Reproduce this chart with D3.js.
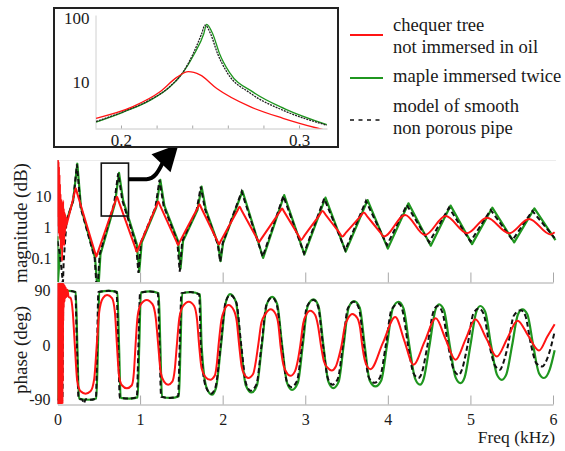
<!DOCTYPE html>
<html><head><meta charset="utf-8">
<script src="https://cdn.jsdelivr.net/npm/d3@7"></script>
<style>
html,body{margin:0;padding:0;background:#fff;}
svg{display:block;font-family:"Liberation Serif","Times New Roman",serif;}
</style></head><body>
<svg id="chart" width="565" height="451"></svg>
<script>
// ---- tick values ----
const freqTicks = [0, 1, 2, 3, 4, 5, 6];
const magTicks = [0.1, 1, 10];
const phaseTicks = [-90, 0, 90];
const insetFreqTicks = [0.2, 0.22, 0.24, 0.26, 0.28, 0.3];
const insetFreqLabels = [0.2, 0.3];
const insetMagTicks = [10, 100];

// ---- legend ----
const legendItems = [
  { key: "chequer", lines: ["chequer tree", "not immersed in oil"] },
  { key: "maple", lines: ["maple immersed twice"] },
  { key: "model", lines: ["model of smooth", "non porous pipe"] }
];

// ---- magnitude |Z| (linear units, log axis), [freq kHz, value] ----
const magModel = [[0,0.35],[0.03,0.12],[0.055,0.03],[0.065,0.012],[0.075,0.08],[0.11,1.6],[0.19,7.1],[0.235,105],[0.28,4.2],[0.45,0.1],[0.48,0.006],[0.51,0.13],[0.685,5.6],[0.735,54],[0.785,7.1],[0.95,0.28],[0.98,0.033],[1.01,0.32],[1.185,4.2],[1.235,33],[1.285,4.8],[1.45,0.35],[1.48,0.036],[1.51,0.35],[1.685,3.55],[1.735,20],[1.785,3.8],[1.94,0.28],[1.97,0.076],[2.0,0.3],[2.23,13.8],[2.485,0.11],[2.735,10],[2.985,0.141],[3.23,8.3],[3.485,0.18],[3.735,6.9],[3.99,0.26],[4.23,5.1],[4.5,0.32],[4.74,4.2],[5.0,0.34],[5.245,3.55],[5.51,0.38],[5.75,3.3],[6.02,0.44]];

const magMaple = [[0,0.5],[0.004,0.015],[0.03,0.15],[0.07,0.6],[0.11,1.6],[0.19,7.1],[0.24,110],[0.285,4.2],[0.455,0.1],[0.49,0.006],[0.52,0.13],[0.695,5.6],[0.745,56],[0.795,7.1],[0.96,0.28],[0.99,0.036],[1.02,0.32],[1.195,4.2],[1.245,33],[1.295,4.8],[1.46,0.35],[1.49,0.045],[1.52,0.35],[1.695,3.55],[1.745,20],[1.795,3.8],[1.945,0.28],[1.975,0.079],[2.005,0.3],[2.24,14.5],[2.49,0.1],[2.745,10.7],[2.99,0.13],[3.245,8.9],[3.49,0.16],[3.755,7.4],[4.0,0.2],[4.25,5.8],[4.52,0.25],[4.76,4.9],[5.02,0.28],[5.265,4.2],[5.53,0.32],[5.775,4.0],[6.03,0.38]];

const magChequer = [[0,150],[0.003,2],[0.006,150],[0.009,1],[0.012,130],[0.015,0.6],[0.018,90],[0.021,1.5],[0.024,50],[0.027,0.4],[0.03,25],[0.033,0.9],[0.036,12],[0.04,0.2],[0.044,8],[0.048,0.5],[0.052,6],[0.056,0.08],[0.06,4],[0.064,0.3],[0.068,7],[0.072,0.6],[0.076,4],[0.08,0.25],[0.085,3],[0.09,0.6],[0.095,2.5],[0.1,0.9],[0.105,2],[0.11,1.2],[0.12,1.5],[0.17,5.0],[0.205,12.2],[0.22,17.8],[0.24,11.8],[0.455,0.149],[0.47,0.11],[0.485,0.143],[0.7,6.7],[0.72,9.5],[0.74,6.8],[0.945,0.205],[0.96,0.158],[0.975,0.196],[1.2,4.95],[1.22,6.6],[1.24,5.05],[1.445,0.32],[1.46,0.263],[1.475,0.313],[1.7,4.27],[1.72,5.37],[1.74,4.17],[1.94,0.333],[1.955,0.275],[1.97,0.326],[2.185,3.61],[2.205,4.52],[2.225,3.61],[2.425,0.383],[2.44,0.324],[2.455,0.37],[2.7,3.33],[2.72,3.98],[2.74,3.25],[2.935,0.443],[2.95,0.38],[2.99,0.53],[3.17,2.37],[3.21,3.31],[3.25,2.41],[3.41,0.673],[3.45,0.49],[3.49,0.645],[3.67,2.24],[3.71,2.95],[3.75,2.19],[3.91,0.66],[3.95,0.49],[4.21,2.45],[4.45,0.55],[4.7,2.26],[4.96,0.63],[5.2,2.0],[5.47,0.63],[5.71,1.82],[5.97,0.575],[6.02,0.68]];

// ---- phase (deg), [freq kHz, value] ----
const phaseModel = [[0,-90],[0.06,-90],[0.07,85],[0.085,89],[0.15,90],[0.215,88],[0.235,0],[0.255,-88],[0.3,-90],[0.32,-96],[0.34,-89],[0.4,-90],[0.465,-88],[0.48,0],[0.495,88],[0.62,90],[0.715,88],[0.735,0],[0.755,-87],[0.86,-88],[0.96,-86],[0.98,0],[1.0,87],[1.12,89],[1.215,86],[1.235,0],[1.255,-85],[1.36,-87],[1.46,-84],[1.48,0],[1.5,86],[1.61,88],[1.715,84],[1.735,0],[1.795,-68],[1.86,-80],[1.915,-68],[1.975,0],[2.035,71],[2.09,83],[2.165,71],[2.225,0],[2.285,-64],[2.34,-75],[2.41,-64],[2.47,0],[2.53,67],[2.6,79],[2.655,67],[2.715,0],[2.775,-59],[2.83,-69],[2.9,-59],[2.96,0],[3.02,64],[3.1,75],[3.155,64],[3.215,0],[3.275,-55],[3.33,-65],[3.395,-55],[3.455,0],[3.515,61],[3.59,72],[3.65,61],[3.71,0],[3.77,-53],[3.84,-62],[3.905,-53],[3.975,0],[4.045,59],[4.13,69],[4.175,59],[4.245,0],[4.31,-46],[4.37,-54],[4.41,-46],[4.48,0],[4.55,55],[4.6,65],[4.66,55],[4.73,0],[4.8,-41],[4.86,-49],[4.895,-41],[4.965,0],[5.035,52],[5.1,61],[5.16,52],[5.23,0],[5.3,-34],[5.36,-40.5],[5.385,-34],[5.455,0],[5.525,49],[5.61,58],[5.665,49],[5.735,0],[5.8,-30],[5.87,-35],[5.93,-22],[6.02,22.6]];

const phaseMaple = [[0,-90],[0.02,85],[0.035,89],[0.13,90],[0.22,88],[0.24,0],[0.26,-88],[0.37,-90],[0.47,-88],[0.49,0],[0.505,88],[0.62,90],[0.725,88],[0.745,0],[0.765,-87],[0.87,-88],[0.97,-86],[0.99,0],[1.01,87],[1.12,89],[1.225,86],[1.245,0],[1.265,-85],[1.37,-87],[1.47,-84],[1.49,0],[1.51,86],[1.62,88],[1.725,84],[1.745,0],[1.805,-70],[1.87,-81.7],[1.92,-70],[1.98,0],[2.04,72],[2.09,84.7],[2.16,72],[2.22,0],[2.28,-66],[2.35,-78],[2.415,-66],[2.475,0],[2.535,68],[2.6,80],[2.66,68],[2.72,0],[2.78,-62],[2.84,-73.5],[2.91,-62],[2.97,0],[3.03,65],[3.1,76],[3.16,65],[3.22,0],[3.28,-60],[3.34,-70.7],[3.405,-60],[3.465,0],[3.525,62],[3.59,73],[3.66,62],[3.72,0],[3.78,-58],[3.85,-68],[3.92,-58],[3.99,0],[4.06,61],[4.13,72],[4.19,61],[4.26,0],[4.33,-55],[4.39,-65],[4.435,-55],[4.505,0],[4.575,58],[4.62,67.7],[4.68,58],[4.75,0],[4.82,-53],[4.88,-62.5],[4.93,-53],[5.0,0],[5.07,55],[5.12,65],[5.18,55],[5.25,0],[5.32,-48],[5.38,-57],[5.435,-48],[5.505,0],[5.575,51],[5.63,59.5],[5.69,51],[5.76,0],[5.83,-46],[5.89,-54],[5.96,-40],[6.02,-8]];

const phaseChequer = [[0,-97],[0.0025,103],[0.005,-97],[0.0075,103],[0.01,-97],[0.0125,103],[0.015,-97],[0.0175,103],[0.02,-97],[0.0225,103],[0.025,-97],[0.0275,103],[0.03,-97],[0.0325,103],[0.035,-97],[0.0375,103],[0.04,-97],[0.0425,103],[0.045,-97],[0.0475,103],[0.05,-97],[0.0525,103],[0.055,-97],[0.0575,103],[0.06,-97],[0.0625,103],[0.065,-60],[0.0675,103],[0.07,40],[0.0725,100],[0.075,62],[0.08,100],[0.085,72],[0.09,98],[0.095,78],[0.1,95],[0.11,80],[0.12,92],[0.135,80],[0.16,78],[0.185,55],[0.21,0],[0.24,-60],[0.28,-76],[0.34,-80],[0.4,-76],[0.445,-55],[0.475,0],[0.505,55],[0.55,78],[0.6,83],[0.66,78],[0.695,55],[0.72,0],[0.745,-50],[0.78,-66],[0.84,-71],[0.9,-66],[0.925,-45],[0.945,0],[0.97,48],[1.01,68],[1.08,75],[1.15,68],[1.19,45],[1.22,0],[1.25,-45],[1.29,-60],[1.34,-65],[1.39,-60],[1.42,-40],[1.445,0],[1.475,45],[1.52,65],[1.59,72],[1.655,65],[1.69,42],[1.715,0],[1.745,-38],[1.79,-52],[1.85,-57],[1.905,-50],[1.93,-30],[1.95,0],[1.985,42],[2.02,58],[2.07,66.5],[2.135,58],[2.17,40],[2.2,0],[2.23,-35],[2.26,-48],[2.31,-54],[2.37,-47],[2.4,-28],[2.43,0],[2.47,38],[2.52,52],[2.58,59.5],[2.64,52],[2.675,34],[2.7,0],[2.735,-32],[2.77,-44],[2.82,-50.4],[2.875,-43],[2.91,-25],[2.94,0],[2.975,36],[3.01,50],[3.06,57],[3.12,50],[3.155,32],[3.19,0],[3.225,-26],[3.27,-37],[3.32,-41.6],[3.37,-35],[3.405,-20],[3.44,0],[3.48,32],[3.52,45],[3.57,51.7],[3.63,45],[3.665,28],[3.69,0],[3.72,-24],[3.75,-35],[3.79,-39.4],[3.94,4],[4.09,47],[4.2,7.5],[4.31,-32],[4.445,6],[4.58,44.6],[4.7,10],[4.82,-24],[4.94,9.5],[5.06,43],[5.19,12],[5.32,-18.6],[5.445,11],[5.57,40.7],[5.7,16],[5.83,-8.7],[5.93,14],[6.02,35]];

// ---- zoom on the first resonance ----
const insetModel = [[0.186,2.4],[0.201,3.4],[0.216,5.2],[0.2275,8.5],[0.235,14.5],[0.2406,28],[0.2453,57],[0.2472,78],[0.2503,57],[0.2542,28],[0.2598,13.8],[0.2725,6.7],[0.291,3.6],[0.3156,2.1]];
const insetMaple = [[0.186,2.35],[0.201,3.35],[0.216,5.1],[0.2275,8.4],[0.235,14.3],[0.241,27],[0.2465,57],[0.2481,80],[0.2515,57],[0.2553,28],[0.261,14],[0.274,7],[0.292,3.8],[0.3156,2.15]];
const insetChequer = [[0.186,2.7],[0.2067,4.1],[0.2219,7.0],[0.2313,11.8],[0.2378,14.5],[0.2444,12.9],[0.2538,7.9],[0.2725,4.1],[0.291,2.7],[0.31,1.9],[0.315,1.75]];

// region of the main plot that the zoom refers to
const zoomFreq = [0.53, 0.86];
const zoomMag = [2.26, 115];

const colors = { chequer: "#ff1414", maple: "#1f961f", model: "#111" };

const svg = d3.select("#chart");

// ---- scales ----
const x = d3.scaleLinear().domain([0, 6]).range([57.5, 553]);
const yMag = d3.scaleLog().domain([0.0168, 145]).range([282, 160]);
const yPh = d3.scaleLinear().domain([-97, 103]).range([404, 283]);
const xIn = d3.scaleLinear().domain([0.1854, 0.3157]).range([95, 327]);
const yIn = d3.scaleLog().domain([1.9, 112]).range([128, 15]);

const defs = svg.append("defs");
function clip(id, x0, y0, x1, y1) {
  defs.append("clipPath").attr("id", id).append("rect")
    .attr("x", x0).attr("y", y0).attr("width", x1 - x0).attr("height", y1 - y0);
}
clip("clipMag", 57.5, 160, 558, 282);
clip("clipPh", 57.5, 283, 558, 404);
clip("clipIn", 95, 14, 328, 128.5);

const fontAxis = "16px";

// ---- panel frames ----
svg.append("line").attr("x1", 57.5).attr("x2", 556).attr("y1", 160.5).attr("y2", 160.5)
  .attr("stroke", "#ececec");
svg.append("line").attr("x1", 57.5).attr("x2", 57.5).attr("y1", 160).attr("y2", 282)
  .attr("stroke", "#c4c4c4");
svg.append("line").attr("x1", 57.5).attr("x2", 57.5).attr("y1", 283).attr("y2", 404)
  .attr("stroke", "#c4c4c4");

function styleAxis(g) {
  g.select(".domain").attr("stroke", "#a8a8a8");
  g.selectAll(".tick line").attr("stroke", "#a8a8a8");
  g.selectAll("text").attr("fill", "#1a1a1a").style("font-size", fontAxis)
    .style("font-family", '"Liberation Serif","Times New Roman",serif');
}

// bottom axis of the magnitude panel (ticks only)
svg.append("g").attr("transform", "translate(0,282.5)")
  .call(d3.axisBottom(x).tickValues(freqTicks).tickSizeInner(-10).tickSizeOuter(0).tickFormat(""))
  .call(styleAxis);

// bottom axis of the phase panel
svg.append("g").attr("transform", "translate(0,404.5)")
  .call(d3.axisBottom(x).tickValues(freqTicks).tickSizeInner(-9).tickSizeOuter(0).tickPadding(9)
    .tickFormat(d => String(d)))
  .call(styleAxis);

// left tick labels
svg.append("g").attr("transform", "translate(57.5,0)")
  .call(d3.axisLeft(yMag).tickValues(magTicks).tickSize(0).tickPadding(6).tickFormat(d => String(d)))
  .call(styleAxis).call(g => g.select(".domain").remove());
svg.append("g").attr("transform", "translate(57.5,0)")
  .call(d3.axisLeft(yPh).tickValues(phaseTicks).tickSize(0).tickPadding(7).tickFormat(d => String(d)))
  .call(styleAxis).call(g => g.select(".domain").remove());

// axis titles
svg.append("text").attr("transform", "translate(27,223) rotate(-90)")
  .attr("text-anchor", "middle").style("font-size", "19px").attr("fill", "#1a1a1a")
  .text("magnitude (dB)");
svg.append("text").attr("transform", "translate(27,350) rotate(-90)")
  .attr("text-anchor", "middle").style("font-size", "19px").attr("fill", "#1a1a1a")
  .text("phase (deg)");
svg.append("text").attr("x", 555).attr("y", 443).attr("text-anchor", "end")
  .style("font-size", "17.5px").attr("fill", "#1a1a1a").text("Freq (kHz)");

// ---- curves ----
const magLine = c => d3.line().x(d => x(d[0])).y(d => yMag(d[1])).curve(c);
const phLine = c => d3.line().x(d => x(d[0])).y(d => yPh(d[1])).curve(c);

const gMag = svg.append("g").attr("clip-path", "url(#clipMag)");
gMag.append("path").datum(magMaple).attr("d", magLine(d3.curveLinear))
  .attr("fill", "none").attr("stroke", colors.maple).attr("stroke-width", 2.2).attr("stroke-linejoin", "round");
gMag.append("path").datum(magModel).attr("d", magLine(d3.curveLinear))
  .attr("fill", "none").attr("stroke", colors.model).attr("stroke-width", 2).attr("stroke-dasharray", "5,3");
gMag.append("path").datum(magChequer).attr("d", magLine(d3.curveMonotoneX))
  .attr("fill", "none").attr("stroke", colors.chequer).attr("stroke-width", 2).attr("stroke-linejoin", "round");

const gPh = svg.append("g").attr("clip-path", "url(#clipPh)");
gPh.append("path").datum(phaseMaple).attr("d", phLine(d3.curveMonotoneX))
  .attr("fill", "none").attr("stroke", colors.maple).attr("stroke-width", 2.2);
gPh.append("path").datum(phaseModel).attr("d", phLine(d3.curveMonotoneX))
  .attr("fill", "none").attr("stroke", colors.model).attr("stroke-width", 2).attr("stroke-dasharray", "5,3");
gPh.append("path").datum(phaseChequer).attr("d", phLine(d3.curveMonotoneX))
  .attr("fill", "none").attr("stroke", colors.chequer).attr("stroke-width", 2);

// ---- zoom box and arrow ----
svg.append("rect")
  .attr("x", x(zoomFreq[0])).attr("y", yMag(zoomMag[1]))
  .attr("width", x(zoomFreq[1]) - x(zoomFreq[0]))
  .attr("height", yMag(zoomMag[0]) - yMag(zoomMag[1]))
  .attr("fill", "none").attr("stroke", "#111").attr("stroke-width", 1.6);

const ax = x(zoomFreq[1]), ay = yMag(35);
svg.append("path")
  .attr("d", `M${ax},${ay} L${ax + 18},${ay} C${ax + 26},${ay} ${ax + 30},${ay - 8} ${ax + 34},${ay - 16}`)
  .attr("fill", "none").attr("stroke", "#000").attr("stroke-width", 4);
svg.append("path")
  .attr("d", `M${ax + 50},${ay - 35} L${ax + 23},${ay - 25} L${ax + 42},${ay - 7} Z`)
  .attr("fill", "#000");

// ---- inset ----
svg.append("rect").attr("x", 54).attr("y", 8).attr("width", 284).attr("height", 139)
  .attr("fill", "#fff").attr("stroke", "#222").attr("stroke-width", 2);

svg.append("g").attr("transform", "translate(0,128.5)")
  .call(d3.axisBottom(xIn).tickValues(insetFreqTicks).tickSizeInner(-3).tickSizeOuter(0).tickPadding(5)
    .tickFormat(d => insetFreqLabels.includes(d) ? String(d) : ""))
  .call(styleAxis).call(g => g.selectAll("text").style("font-size", "17px"))
  .call(g => g.select(".domain").attr("stroke", "#c8c8c8"));
svg.append("g").attr("transform", "translate(95.5,0)")
  .call(d3.axisLeft(yIn).tickValues(insetMagTicks).tickSizeInner(0).tickSizeOuter(0).tickPadding(6)
    .tickFormat(d => String(d)))
  .call(styleAxis).call(g => g.selectAll("text").style("font-size", "17px"))
  .call(g => g.select(".domain").attr("stroke", "#d0d0d0"));

const inLine = d3.line().x(d => xIn(d[0])).y(d => yIn(d[1])).curve(d3.curveMonotoneX);
const gIn = svg.append("g").attr("clip-path", "url(#clipIn)");
gIn.append("path").datum(insetMaple).attr("d", inLine)
  .attr("fill", "none").attr("stroke", colors.maple).attr("stroke-width", 1.3);
gIn.append("path").datum(insetModel).attr("d", inLine)
  .attr("fill", "none").attr("stroke", "#222").attr("stroke-width", 1.3).attr("stroke-dasharray", "2,1");
gIn.append("path").datum(insetChequer).attr("d", inLine)
  .attr("fill", "none").attr("stroke", colors.chequer).attr("stroke-width", 1.3);

// ---- legend ----
const legendRows = [
  { key: "chequer", sampleY: 35, textY: [31, 53] },
  { key: "maple", sampleY: 78, textY: [82] },
  { key: "model", sampleY: 120, textY: [112, 134] }
];
const gLeg = svg.append("g");
legendRows.forEach((r, i) => {
  gLeg.append("line").attr("x1", 350).attr("x2", 383).attr("y1", r.sampleY).attr("y2", r.sampleY)
    .attr("stroke", colors[r.key]).attr("stroke-width", r.key === "model" ? 1.6 : 1.8)
    .attr("stroke-dasharray", r.key === "model" ? "4,4.5" : null);
  legendItems[i].lines.forEach((t, j) => {
    gLeg.append("text").attr("x", 393).attr("y", r.textY[j])
      .style("font-size", "18.6px").attr("fill", "#1a1a1a").text(t);
  });
});
</script>
</body></html>
